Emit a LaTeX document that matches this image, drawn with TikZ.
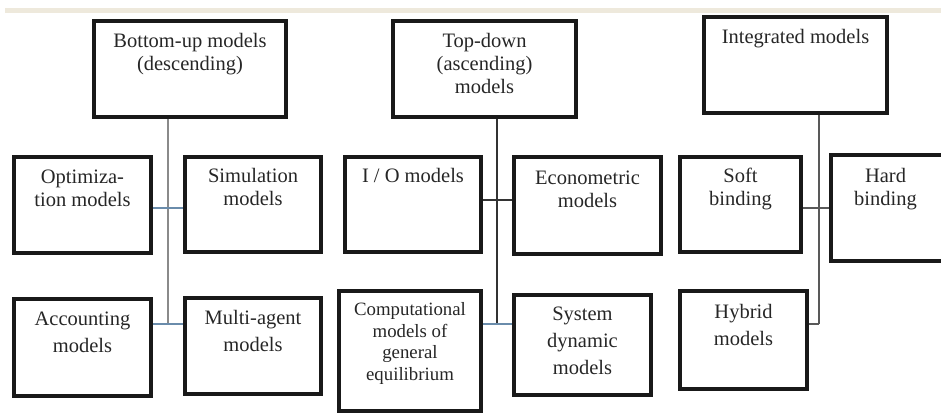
\documentclass[tikz,border=0pt]{standalone}
\usepackage{fontspec}
\setmainfont{Liberation Serif}
\usepackage{xcolor}
\usetikzlibrary{positioning}

\definecolor{bandbeige}{HTML}{EEE9DC}
\definecolor{linkblue}{HTML}{6A8CAB}
\definecolor{linkgray}{HTML}{8A8A8A}

\tikzset{
  modelbox/.style 2 args={draw=black!90, line width=4.5pt, minimum width=#1pt, minimum height=#2pt, inner sep=0pt},
  boxtext/.style={align=center, inner sep=0pt, text=black!85, font=\fontsize{20.5}{23}\selectfont},
  lowtext/.style={boxtext, font=\fontsize{20.5}{27}\selectfont},
  smalltext/.style={boxtext, font=\fontsize{18.8}{21.5}\selectfont},
  link/.style={line width=1.2pt}
}

\begin{document}
\begin{tikzpicture}[x=1pt,y=-1pt]
\clip (0,0) rectangle (941,414);
\fill[bandbeige] (5,8) rectangle (941,13);

% bottom-up group
\node[modelbox={192}{96}] (bu) at (190,69) {};
\node[boxtext, below=14pt of bu.north] (bu-text) {Bottom-up models\\(descending)};
\node[modelbox={137}{96}] (opt) at (82.5,205) {};
\node[boxtext, below=15pt of opt.north] (opt-text) {Optimiza-\\tion models};
\node[modelbox={136}{95}] (sim) at (253,204.5) {};
\node[boxtext, below=13pt of sim.north] (sim-text) {Simulation\\models};
\node[modelbox={137}{97}] (acc) at (82.5,347.5) {};
\node[lowtext, below=15pt of acc.north] (acc-text) {Accounting\\models};
\node[modelbox={136}{96}] (mul) at (253,346) {};
\node[lowtext, below=14pt of mul.north] (mul-text) {Multi-agent\\models};

\coordinate (bu-mid) at (168,208);
\coordinate (bu-end) at (168,324);
\draw[link, linkgray] (bu-end |- bu.south) -- (bu-end);
\draw[link, linkblue] (opt.east |- bu-mid) -- (sim.west |- bu-mid);
\draw[link, linkblue] (acc.east |- bu-end) -- (mul.west |- bu-end);

% top-down group
\node[modelbox={183}{96}] (td) at (484.5,69) {};
\node[boxtext, below=14pt of td.north] (td-text) {Top-down\\(ascending)\\models};
\node[modelbox={136}{95}] (io) at (413,204.5) {};
\node[boxtext, below=13pt of io.north] (io-text) {I / O models};
\node[modelbox={147}{97}] (eco) at (587.5,205.5) {};
\node[boxtext, below=16pt of eco.north] (eco-text) {Econometric\\models};
\node[modelbox={142}{120}] (comp) at (410,351) {};
\node[smalltext, below=14pt of comp.north] (comp-text) {Computational\\models of\\general\\equilibrium};
\node[modelbox={137}{100}] (sys) at (582.5,345) {};
\node[lowtext, below=14pt of sys.north] (sys-text) {System\\dynamic\\models};

\coordinate (td-mid) at (497,200);
\coordinate (td-end) at (497,324);
\draw[link, black!80] (td-end |- td.south) -- (td-end);
\draw[link, black!80] (io.east |- td-mid) -- (eco.west |- td-mid);
\draw[link, linkblue] (comp.east |- td-end) -- (sys.west |- td-end);

% integrated group
\node[modelbox={183}{96}] (int) at (795.5,65) {};
\node[boxtext, below=14pt of int.north] (int-text) {Integrated models};
\node[modelbox={121}{95}] (soft) at (740.5,204.5) {};
\node[boxtext, below=13pt of soft.north] (soft-text) {Soft\\binding};
\node[modelbox={129}{106}] (hard) at (895.5,208) {};
\node[boxtext, below=15pt of hard.north, xshift=-10pt] (hard-text) {Hard\\binding};
\node[modelbox={127}{98}] (hyb) at (743.5,340) {};
\node[lowtext, below=15pt of hyb.north] (hyb-text) {Hybrid\\models};

\coordinate (int-mid) at (819,208);
\coordinate (int-end) at (819,324);
\draw[link, black!65] (int-end |- int.south) -- (int-end);
\draw[link, black!65] (soft.east |- int-mid) -- (hard.west |- int-mid);
\draw[link, black!65] (hyb.east |- int-end) -- (int-end);
\end{tikzpicture}
\end{document}
